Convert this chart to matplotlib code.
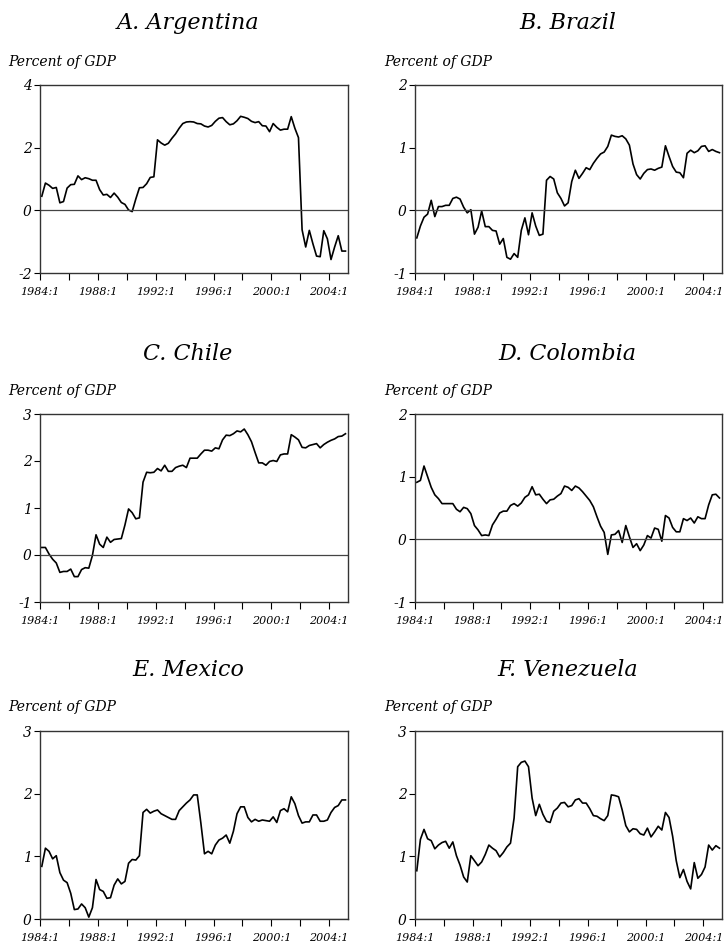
import numpy as np
import matplotlib
matplotlib.use("Agg")
import matplotlib.pyplot as plt

# quarterly data, 1984:1 - 2005:1 (percent of GDP)
argentina = [0.45, 0.87, 0.80, 0.70, 0.73, 0.24, 0.28, 0.71, 0.82, 0.83,
             1.10, 0.98, 1.04, 1.01, 0.96, 0.96, 0.66, 0.49, 0.51, 0.41,
             0.55, 0.42, 0.25, 0.19, 0.01, -0.04, 0.36, 0.72, 0.73, 0.85,
             1.05, 1.07, 2.25, 2.15, 2.08, 2.14, 2.30, 2.44, 2.62, 2.77,
             2.82, 2.83, 2.82, 2.77, 2.76, 2.69, 2.66, 2.71, 2.84, 2.94,
             2.96, 2.83, 2.73, 2.76, 2.86, 3.00, 2.97, 2.93, 2.84, 2.80,
             2.83, 2.70, 2.69, 2.51, 2.77, 2.65, 2.56, 2.59, 2.59, 2.99,
             2.62, 2.32, -0.62, -1.17, -0.64, -1.07, -1.46, -1.48, -0.65, -0.91,
             -1.57, -1.17, -0.81, -1.30, -1.30]
brazil = [-0.44, -0.25, -0.11, -0.06, 0.16, -0.10, 0.06, 0.06, 0.08, 0.08,
          0.19, 0.21, 0.18, 0.05, -0.04, 0.01, -0.38, -0.27, -0.01, -0.26,
          -0.26, -0.32, -0.33, -0.54, -0.45, -0.75, -0.78, -0.69, -0.75, -0.32,
          -0.12, -0.39, -0.04, -0.25, -0.40, -0.38, 0.48, 0.54, 0.50, 0.28,
          0.19, 0.07, 0.12, 0.46, 0.64, 0.51, 0.59, 0.68, 0.65, 0.75,
          0.83, 0.90, 0.93, 1.02, 1.20, 1.18, 1.17, 1.19, 1.14, 1.04,
          0.74, 0.57, 0.50, 0.59, 0.65, 0.66, 0.64, 0.67, 0.69, 1.03,
          0.86, 0.70, 0.61, 0.60, 0.52, 0.91, 0.96, 0.92, 0.95, 1.02,
          1.03, 0.94, 0.97, 0.94, 0.92]
chile = [0.16, 0.16, 0.02, -0.09, -0.17, -0.37, -0.35, -0.35, -0.30, -0.46,
         -0.46, -0.31, -0.27, -0.28, -0.01, 0.43, 0.23, 0.16, 0.38, 0.27,
         0.33, 0.34, 0.35, 0.64, 0.98, 0.90, 0.77, 0.79, 1.55, 1.76,
         1.75, 1.76, 1.84, 1.79, 1.91, 1.78, 1.78, 1.86, 1.89, 1.91,
         1.86, 2.06, 2.06, 2.06, 2.15, 2.23, 2.23, 2.21, 2.28, 2.26,
         2.45, 2.55, 2.54, 2.58, 2.64, 2.62, 2.68, 2.56, 2.41, 2.18,
         1.96, 1.96, 1.91, 1.99, 2.01, 1.99, 2.13, 2.15, 2.15, 2.56,
         2.51, 2.45, 2.29, 2.28, 2.33, 2.35, 2.37, 2.28, 2.35, 2.40,
         2.44, 2.47, 2.52, 2.53, 2.58]
colombia = [0.91, 0.94, 1.17, 1.00, 0.83, 0.71, 0.65, 0.57, 0.57, 0.57,
            0.57, 0.48, 0.44, 0.51, 0.49, 0.41, 0.22, 0.15, 0.06, 0.07,
            0.06, 0.23, 0.32, 0.42, 0.45, 0.45, 0.54, 0.57, 0.53, 0.58,
            0.67, 0.71, 0.84, 0.71, 0.72, 0.64, 0.57, 0.63, 0.64, 0.69,
            0.73, 0.85, 0.83, 0.78, 0.85, 0.82, 0.76, 0.69, 0.62, 0.52,
            0.36, 0.21, 0.11, -0.24, 0.07, 0.08, 0.14, -0.05, 0.22, 0.04,
            -0.13, -0.07, -0.18, -0.09, 0.06, 0.02, 0.18, 0.16, -0.03, 0.38,
            0.34, 0.19, 0.12, 0.12, 0.33, 0.30, 0.34, 0.26, 0.36, 0.33,
            0.33, 0.55, 0.71, 0.72, 0.66]
mexico = [0.84, 1.13, 1.08, 0.96, 1.01, 0.74, 0.62, 0.58, 0.41, 0.15,
          0.16, 0.24, 0.18, 0.03, 0.18, 0.63, 0.47, 0.44, 0.33, 0.34,
          0.54, 0.64, 0.56, 0.60, 0.89, 0.95, 0.94, 1.01, 1.70, 1.75,
          1.69, 1.72, 1.74, 1.68, 1.65, 1.62, 1.59, 1.59, 1.73, 1.79,
          1.85, 1.90, 1.98, 1.98, 1.53, 1.04, 1.08, 1.04, 1.18, 1.26,
          1.29, 1.34, 1.21, 1.40, 1.68, 1.79, 1.79, 1.62, 1.55, 1.59,
          1.56, 1.58, 1.57, 1.56, 1.63, 1.54, 1.73, 1.76, 1.71, 1.95,
          1.84, 1.65, 1.53, 1.55, 1.55, 1.66, 1.66, 1.56, 1.56, 1.58,
          1.70, 1.78, 1.81, 1.90, 1.90]
venezuela = [0.77, 1.27, 1.43, 1.28, 1.25, 1.12, 1.18, 1.22, 1.24, 1.13,
             1.23, 1.01, 0.86, 0.67, 0.59, 1.01, 0.93, 0.85, 0.91, 1.03,
             1.18, 1.13, 1.09, 0.99, 1.06, 1.15, 1.21, 1.61, 2.43, 2.50,
             2.52, 2.43, 1.93, 1.65, 1.83, 1.67, 1.56, 1.54, 1.72, 1.77,
             1.85, 1.86, 1.79, 1.81, 1.90, 1.92, 1.85, 1.85, 1.76, 1.65,
             1.64, 1.60, 1.57, 1.65, 1.98, 1.97, 1.95, 1.74, 1.49, 1.39,
             1.44, 1.43, 1.36, 1.34, 1.45, 1.31, 1.39, 1.48, 1.42, 1.70,
             1.62, 1.32, 0.93, 0.66, 0.79, 0.60, 0.48, 0.90, 0.65, 0.71,
             0.83, 1.18, 1.10, 1.17, 1.13]

titles = ["A. Argentina", "B. Brazil", "C. Chile",
          "D. Colombia", "E. Mexico", "F. Venezuela"]
series = [argentina, brazil, chile, colombia, mexico, venezuela]
y_ranges = [(-2, 4, 2), (-1, 2, 1), (-1, 3, 1), (-1, 2, 1), (0, 3, 1), (0, 3, 1)]

x_ticks = list(range(1984, 2005, 2))
x_labels = ["%d:1" % y if (y - 1984) % 4 == 0 else "" for y in x_ticks]

plt.rcParams["font.family"] = "DejaVu Serif"
plt.rcParams["font.style"] = "italic"

W, H = 724, 946
fig = plt.figure(figsize=(W / 100, H / 100), dpi=100)

# axes boxes in pixels (left, top, width, height)
col_left = [40, 415]
col_width = [308, 307]
row_top = [85, 414, 731]
row_height = 188
title_x = [188, 567.5]
title_y = [23, 354, 670]
label_y = [62, 391, 707]
label_x = [8, 384]

for k, (name, vals, (lo, hi, step)) in enumerate(zip(titles, series, y_ranges)):
    r, c = divmod(k, 2)
    ax = fig.add_axes([col_left[c] / W, 1 - (row_top[r] + row_height) / H,
                       col_width[c] / W, row_height / H])
    t = 1984.125 + 0.25 * np.arange(len(vals))
    ax.plot(t, vals, color="black", lw=1.2)
    ax.axhline(0, color="#444444", lw=0.9)
    ax.set_xlim(1984, 2005.3)
    ax.set_ylim(lo, hi)
    yt = np.arange(lo, hi + step / 2, step)
    ax.set_yticks(yt)
    ax.set_yticklabels([str(int(v)) for v in yt], fontsize=10)
    ax.set_xticks(x_ticks)
    ax.set_xticklabels(x_labels, fontsize=8)
    ax.tick_params(axis="x", direction="out", length=5, width=0.8, pad=5)
    ax.tick_params(axis="y", direction="out", length=4, width=0.8, pad=2)
    for s in ax.spines.values():
        s.set_color("#333333")
        s.set_linewidth(1.0)

    fig.text(title_x[c] / W, 1 - title_y[r] / H, name, fontsize=16,
             ha="center", va="center")
    fig.text(label_x[c] / W, 1 - label_y[r] / H, "Percent of GDP",
             fontsize=10, ha="left", va="center")

fig.savefig("out.png", dpi=100)
